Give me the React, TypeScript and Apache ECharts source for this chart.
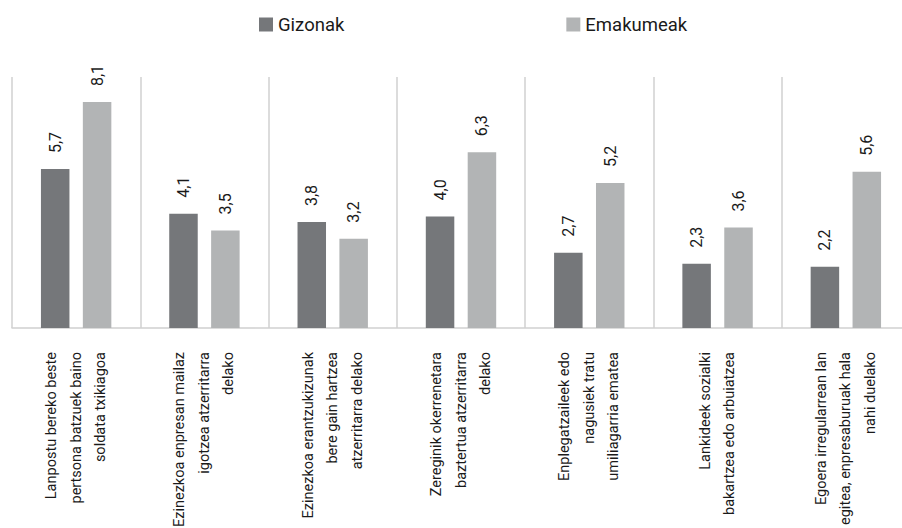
import React, { useEffect, useRef } from "react";
import * as echarts from "echarts";

const categories = [
  "Lanpostu bereko beste\npertsona batzuek baino\nsoldata txikiagoa",
  "Ezinezkoa enpresan mailaz\nigotzea atzerritarra\ndelako",
  "Ezinezkoa erantzukizunak\nbere gain hartzea\natzerritarra delako",
  "Zereginik okerrenetara\nbaztertua atzerritarra\ndelako",
  "Enplegatzaileek edo\nnagusiek tratu\numiliagarria ematea",
  "Lankideek sozialki\nbakartzea edo arbuiatzea",
  "Egoera irregularrean lan\negitea, enpresaburuak hala\nnahi duelako",
];
const gizonak = [5.7, 4.1, 3.8, 4.0, 2.7, 2.3, 2.2];
const emakumeak = [8.1, 3.5, 3.2, 6.3, 5.2, 3.6, 5.6];
const seriesNames = ["Gizonak", "Emakumeak"];

const FONT = "Roboto, 'Liberation Sans', sans-serif";

export default function App() {
  const ref = useRef<HTMLDivElement>(null);
  useEffect(() => {
    if (!ref.current) return;
    const chart = echarts.init(ref.current, null, { renderer: "svg" });
    const mkLabel = () => ({
      show: true,
      position: "top",
      rotate: 90,
      align: "left",
      verticalAlign: "middle",
      distance: 16,
      fontSize: 16,
      color: "#1a1a1a",
      fontFamily: FONT,
      formatter: (p: any) => Number(p.value).toFixed(1).replace(".", ","),
    });
    chart.setOption({
      animation: false,
      legend: {
        left: 254,
        top: 10,
        itemWidth: 14,
        itemHeight: 14,
        itemGap: 222,
        icon: "rect",
        textStyle: { fontSize: 18.5, fontFamily: FONT, color: "#1a1a1a" },
        data: seriesNames,
      },
      grid: { left: 12, right: -8, top: 77, bottom: 200, containLabel: false, outerBoundsMode: "none" },
      xAxis: {
        type: "category",
        data: categories,
        axisLine: { show: true, lineStyle: { color: "#d0d0d0", width: 1.5 } },
        axisTick: { show: false },
        splitLine: { show: true, lineStyle: { color: "#d0d0d0", width: 1.5 } },
        axisLabel: {
          interval: 0,
          rotate: 90,
          margin: 24,
          fontSize: 14.5,
          lineHeight: 24.5,
          fontFamily: FONT,
          color: "#1a1a1a",
        },
      },
      yAxis: {
        type: "value",
        min: 0,
        max: 9,
        show: false,
        splitLine: { show: false },
      },
      series: [
        {
          name: seriesNames[0],
          type: "bar",
          data: gizonak,
          barWidth: 28.5,
          barGap: "47%",
          itemStyle: { color: "#75777a" },
          label: mkLabel(),
        },
        {
          name: seriesNames[1],
          type: "bar",
          data: emakumeak,
          barWidth: 28.5,
          itemStyle: { color: "#b2b4b5" },
          label: mkLabel(),
        },
      ],
    });
    return () => chart.dispose();
  }, []);
  return (
    <div
      ref={ref}
      style={{ position: "absolute", left: 0, top: 0, width: 902, height: 528, background: "#fff" }}
    />
  );
}
